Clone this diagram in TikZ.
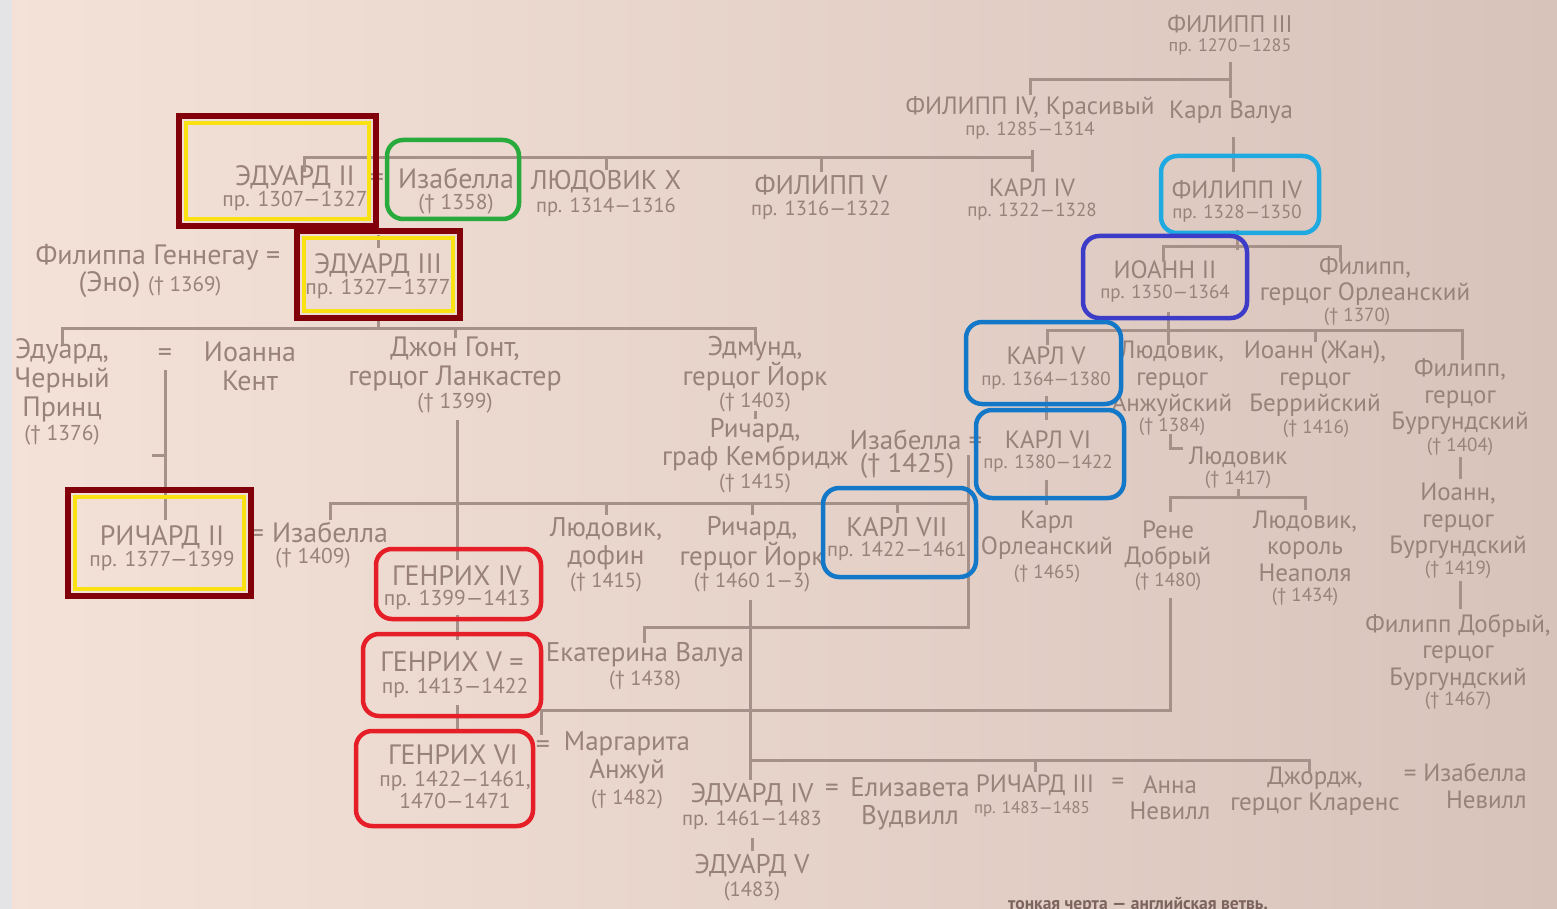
\documentclass[tikz,border=0pt]{standalone}
\usepackage{fontspec}
\setmainfont{PT Sans}
\definecolor{ink}{RGB}{152,130,122}
\definecolor{lnc}{RGB}{165,145,138}
\definecolor{bgl}{RGB}{244,226,216}
\definecolor{bgr}{RGB}{216,195,187}
\definecolor{strip}{RGB}{228,228,230}
\definecolor{dred}{RGB}{130,0,10}
\definecolor{yel}{RGB}{250,225,20}
\definecolor{grn}{RGB}{40,170,60}
\definecolor{lblue}{RGB}{30,170,225}
\definecolor{indg}{RGB}{60,60,200}
\definecolor{mblue}{RGB}{20,120,200}
\definecolor{rred}{RGB}{230,30,40}
\definecolor{capc}{RGB}{125,100,95}
\begin{document}
\begin{tikzpicture}[x=1pt,y=-1pt,
  base/.style={text=ink, align=center, inner sep=0pt},
  nmL/.style={base, font=\fontsize{28}{29}\selectfont},
  nmM/.style={base, font=\fontsize{27}{28}\selectfont},
  nmR/.style={base, font=\fontsize{25}{26.5}\selectfont},
  dtL/.style={base, font=\fontsize{21.5}{22.5}\selectfont},
  dtM/.style={base, font=\fontsize{20.5}{21.5}\selectfont},
  dtR/.style={base, font=\fontsize{19}{20}\selectfont},
  ln/.style={draw=lnc, line width=3pt},
  redbox/.style={draw=dred, line width=6.5pt},
  yelbox/.style={draw=yel, line width=4.5pt},
  rbox/.style={line width=4.5pt, rounded corners=16pt}]
\useasboundingbox (0,0) rectangle (1557,909);
\clip (0,0) rectangle (1557,909);
\shade[left color=bgl, right color=bgr] (0,0) rectangle (1557,909);

% ---- text nodes ----
\node[nmR, font=\fontsize{24}{25}\selectfont] (f3) at (1230,24) {ФИЛИПП III};
\node[dtR, font=\fontsize{18}{19}\selectfont] (f3d) at (1230,47) {пр. 1270—1285};
\node[nmR] (f4k) at (1030,108) {ФИЛИПП IV, Красивый};
\node[dtR] (f4kd) at (1030,131) {пр. 1285—1314};
\node[nmR] (kval) at (1231,112) {Карл Валуа};

\node[nmL] (ed2) at (295,177) {ЭДУАРД II};
\node[dtL] (ed2d) at (295,201) {пр. 1307—1327};
\node[nmL] (eq1) at (377,180) {=};
\node[nmL] (isa1) at (456,179) {Изабелла};
\node[dtL] (isa1d) at (456,204) {(† 1358)};
\node[nmM] (lx) at (606,182) {ЛЮДОВИК X};
\node[dtM] (lxd) at (606,207) {пр. 1314—1316};
\node[nmM] (f5) at (821,185) {ФИЛИПП V};
\node[dtM] (f5d) at (821,210) {пр. 1316—1322};
\node[nmR] (k4) at (1032,188) {КАРЛ IV};
\node[dtR] (k4d) at (1032,212) {пр. 1322—1328};
\node[nmR] (f4) at (1237,190) {ФИЛИПП IV};
\node[dtR] (f4d) at (1237,214) {пр. 1328—1350};

\node[nmL] (filgen) at (158,257) {Филиппа Геннегау =};
\node[nmL] (eno) at (150,285) {(Эно) {\fontsize{21}{22}\selectfont († 1369)}};
\node[nmL] (ed3) at (378,265) {ЭДУАРД III};
\node[dtL] (ed3d) at (378,289) {пр. 1327—1377};
\node[nmR] (i2) at (1165,270) {ИОАНН II};
\node[dtR] (i2d) at (1165,294) {пр. 1350—1364};
\node[nmR] (forl) at (1365,281) {Филипп,\\герцог Орлеанский};
\node[dtR] (forld) at (1357,317) {(† 1370)};

\node[nmL] (bp) at (62,380) {Эдуард,\\Черный\\Принц};
\node[dtL] (bpd) at (62,435) {(† 1376)};
\node[nmL] (eq2) at (165,355) {=};
\node[nmL] (ioanna) at (250,366) {Иоанна\\Кент};
\node[nmL] (gont) at (455,364) {Джон Гонт,\\герцог Ланкастер};
\node[dtL] (gontd) at (455,403) {(† 1399)};
\node[nmM] (edm) at (755,364) {Эдмунд,\\герцог Йорк};
\node[dtM] (edmd) at (755,402) {(† 1403)};
\node[nmM] (rcam) at (755,445) {Ричард,\\граф Кембридж};
\node[dtM] (rcamd) at (755,483) {(† 1415)};
\node[nmM] (isa2) at (916,440) {Изабелла =};
\node[nmM] (isa2d) at (907,466) {(† 1425)};
\node[nmR] (k5) at (1046,356) {КАРЛ V};
\node[dtR] (k5d) at (1046,381) {пр. 1364—1380};
\node[nmR] (k6) at (1048,440) {КАРЛ VI};
\node[dtR] (k6d) at (1048,464) {пр. 1380—1422};
\node[nmR] (lanj) at (1172,379) {Людовик,\\герцог\\Анжуйский};
\node[dtR] (lanjd) at (1172,427) {(† 1384)};
\node[nmR] (jber) at (1315,379) {Иоанн (Жан),\\герцог\\Беррийский};
\node[dtR] (jberd) at (1316,429) {(† 1416)};
\node[nmR] (fbur) at (1460,397) {Филипп,\\герцог\\Бургундский};
\node[dtR] (fburd) at (1460,447) {(† 1404)};
\node[nmR] (lud) at (1238,457) {Людовик};
\node[dtR] (ludd) at (1238,480) {(† 1417)};

\node[nmL] (rich2) at (162,537) {РИЧАРД II};
\node[dtL] (rich2d) at (162,561) {пр. 1377—1399};
\node[nmL] (eq3) at (257,536) {=};
\node[nmL] (isa3) at (330,533) {Изабелла};
\node[dtL] (isa3d) at (313,558) {(† 1409)};
\node[nmM] (ldof) at (606,544) {Людовик,\\дофин};
\node[dtM] (ldofd) at (606,582) {(† 1415)};
\node[nmM] (ryork) at (752,544) {Ричард,\\герцог Йорк};
\node[dtM] (ryorkd) at (752,582) {(† 1460 1—3)};
\node[nmM] (k7) at (897,527) {КАРЛ VII};
\node[dtM] (k7d) at (897,551) {пр. 1422—1461};
\node[nmR] (korl) at (1047,535) {Карл\\Орлеанский};
\node[dtR] (korld) at (1047,574) {(† 1465)};
\node[nmR] (rene) at (1168,545) {Рене\\Добрый};
\node[dtR] (rened) at (1168,582) {(† 1480)};
\node[nmR] (lnap) at (1305,546) {Людовик,\\король\\Неаполя};
\node[dtR] (lnapd) at (1305,597) {(† 1434)};
\node[nmR] (jbur) at (1458,521) {Иоанн,\\герцог\\Бургундский};
\node[dtR] (jburd) at (1458,570) {(† 1419)};
\node[nmR] (fdob) at (1458,652) {Филипп Добрый,\\герцог\\Бургундский};
\node[dtR] (fdobd) at (1458,701) {(† 1467)};

\node[nmL] (h4) at (457,576) {ГЕНРИХ IV};
\node[dtL] (h4d) at (457,600) {пр. 1399—1413};
\node[nmL] (h5) at (452,662) {ГЕНРИХ V =};
\node[dtL] (h5d) at (455,688) {пр. 1413—1422};
\node[nmM] (ekat) at (645,655) {Екатерина Валуа};
\node[dtM] (ekatd) at (645,680) {(† 1438)};
\node[nmL] (h6) at (453,755) {ГЕНРИХ VI};
\node[nmL] (eq4) at (543,747) {=};
\node[dtL] (h6d) at (455,790) {пр. 1422—1461,\\1470—1471};
\node[nmM] (marg) at (627,758) {Маргарита\\Анжуй};
\node[dtM] (margd) at (627,799) {(† 1482)};

\node[nmM] (ed4) at (752,795) {ЭДУАРД IV};
\node[dtM] (ed4d) at (752,820) {пр. 1461—1483};
\node[nmM] (eq5) at (832,790) {=};
\node[nmM] (eliz) at (910,804) {Елизавета\\Вудвилл};
\node[nmR] (r3) at (1035,785) {РИЧАРД III};
\node[nmR] (eq6) at (1118,784) {=};
\node[base, font=\fontsize{17}{19}\selectfont] (r3d) at (1032,809) {пр. 1483—1485};
\node[nmR] (anna) at (1170,798) {Анна\\Невилл};
\node[nmR] (georg) at (1315,791) {Джордж,\\герцог Кларенс};
\node[nmR, align=right, anchor=east] (isa4) at (1527,786) {= Изабелла\\Невилл};
\node[nmM] (ed5) at (752,866) {ЭДУАРД V};
\node[dtM] (ed5d) at (752,891) {(1483)};
\node[text=capc, font=\fontsize{17.5}{19}\selectfont\bfseries, inner sep=0pt, anchor=west] (cap) at (1008,905) {тонкая черта — английская ветвь.};

% ---- junction coordinates ----
\coordinate (xa1) at (1030,95); \coordinate (xa2) at (1030,80); \coordinate (xa3) at (1230,80);
\coordinate (xa4) at (1230,62); \coordinate (xa5) at (1230,98);
\coordinate (xb1) at (1233,137); \coordinate (xb2) at (1233,172);
\coordinate (xc1) at (304,172); \coordinate (xc2) at (304,158); \coordinate (xc3) at (1032,158);
\coordinate (xc4) at (1032,150); \coordinate (xc5) at (1032,172);
\coordinate (xd1) at (378,235); \coordinate (xd2) at (378,248);
\coordinate (xe1) at (1237,230); \coordinate (xe2) at (1237,250);
\coordinate (xe3) at (1163,262); \coordinate (xe4) at (1163,247); \coordinate (xe5) at (1340,247); \coordinate (xe6) at (1340,262);
\coordinate (xg1) at (62,345); \coordinate (xg2) at (62,328); \coordinate (xg3) at (755,328); \coordinate (xg4) at (755,345);
\coordinate (xh1) at (165,370); \coordinate (xh2) at (165,520); \coordinate (xh3) at (152,455); \coordinate (xh4) at (165,455);
\coordinate (xk1) at (457,420); \coordinate (xk2) at (457,560);
\coordinate (xm1) at (330,520); \coordinate (xm2) at (330,503); \coordinate (xm3) at (968,503);
\coordinate (xn1) at (968,455); \coordinate (xn2) at (968,627); \coordinate (xn3) at (644,627); \coordinate (xn4) at (644,643);
\coordinate (xp1) at (1047,345); \coordinate (xp2) at (1047,330); \coordinate (xp3) at (1462,330); \coordinate (xp4) at (1462,360);
\coordinate (xq1) at (1170,434); \coordinate (xq2) at (1170,448); \coordinate (xq3) at (1183,448);
\coordinate (xr1) at (1170,512); \coordinate (xr2) at (1170,497); \coordinate (xr3) at (1305,497); \coordinate (xr4) at (1305,510);
\coordinate (xs1) at (1170,598); \coordinate (xs2) at (1170,710); \coordinate (xs3) at (541,710); \coordinate (xs4) at (541,735);
\coordinate (xt1) at (750,600); \coordinate (xt2) at (750,780); \coordinate (xt3) at (750,760); \coordinate (xt4) at (1309,760); \coordinate (xt5) at (1309,772);

% ---- connectors ----
\draw[ln] (xa1) -- (xa2) -- (xa3);
\draw[ln] (xa4) -- (xa5);
\draw[ln] (xb1) -- (xb2);
\draw[ln] (xc1) -- (xc2) -- (xc3);
\draw[ln] (xc4) -- (xc5);
\draw[ln] (lx.north |- xc2) -- ++(0,12);
\draw[ln] (f5.north |- xc2) -- ++(0,14);
\draw[ln] (xd1) -- (xd2);
\draw[ln] (xe1) -- (xe2);
\draw[ln] (xe3) -- (xe4) -- (xe5) -- (xe6);
\draw[ln] (xg1) -- (xg2) -- (xg3) -- (xg4);
\draw[ln] (ed3.south |- xg2) -- ++(0,-10);
\draw[ln] (gont.north |- xg2) -- ++(0,10);
\draw[ln] (xh1) -- (xh2);
\draw[ln] (xh3) -- (xh4);
\draw[ln] (xk1) -- (xk2);
\draw[ln] (edm.south |- 0,411) -- (edm.south |- 0,419);
\draw[ln] (xm1) -- (xm2) -- (xm3);
\draw[ln] (xn1) -- (xn2) -- (xn3) -- (xn4);
\draw[ln] (ldof.north |- xm2) -- ++(0,12);
\draw[ln] (ryork.north |- xm2) -- ++(0,12);
\draw[ln] (k7.north |- xm2) -- ++(0,10);
\draw[ln] (1168,312) -- (1168,345);
\draw[ln] (xp1) -- (xp2) -- (xp3) -- (xp4);
\draw[ln] (jber.north |- xp2) -- ++(0,12);
\draw[ln] (1046,396) -- (1046,420);
\draw[ln] (1046,480) -- (1046,505);
\draw[ln] (xq1) -- (xq2) -- (xq3);
\draw[ln] (lud.north |- 0,489) -- (lud.north |- xr2);
\draw[ln] (xr1) -- (xr2) -- (xr3) -- (xr4);
\draw[ln] (1460,457) -- (1460,479);
\draw[ln] (1460,581) -- (1460,609);
\draw[ln] (xs1) -- (xs2) -- (xs3) -- (xs4);
\draw[ln] (457,615) -- (457,640);
\draw[ln] (457,705) -- (457,730);
\draw[ln] (xt1) -- (xt2);
\draw[ln] (xt3) -- (xt4) -- (xt5);
\draw[ln] (r3.north |- xt3) -- ++(0,12);
\draw[ln] (752,838) -- (752,851);

% ---- highlight boxes ----
\draw[redbox] (179,116) rectangle (376,226);
\draw[yelbox] (186,123) rectangle (369,219);
\draw[redbox] (297,231) rectangle (460,318);
\draw[yelbox] (304,238) rectangle (453,311);
\draw[redbox] (68,490) rectangle (251,596);
\draw[yelbox] (75,497) rectangle (244,589);
\draw[rbox, grn] (387,140) rectangle (519,219);
\draw[rbox, lblue] (1161,156) rectangle (1319,233);
\draw[rbox, indg] (1083,236) rectangle (1247,318);
\draw[rbox, mblue] (966,322) rectangle (1121,404);
\draw[rbox, mblue] (976,410) rectangle (1124,498);
\draw[rbox, mblue] (823,488) rectangle (976,577);
\draw[rbox, rred] (376,549) rectangle (541,619);
\draw[rbox, rred] (363,634) rectangle (541,716);
\draw[rbox, rred] (356,731) rectangle (533,826);

% left photo edge
\fill[strip] (0,0) rectangle (12,909);
\end{tikzpicture}
\end{document}
